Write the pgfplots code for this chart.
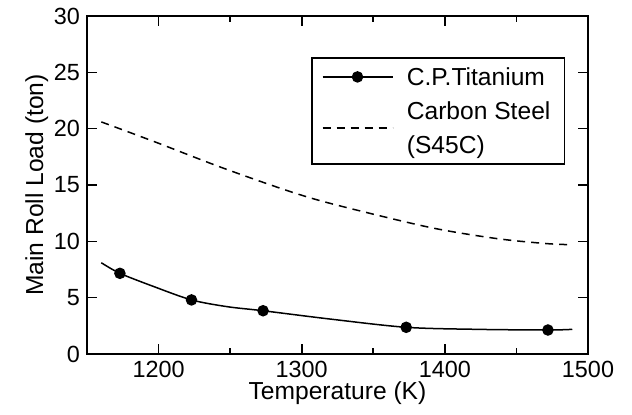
\documentclass[border=0pt]{standalone}
\usepackage{pgfplots}
\pgfplotsset{compat=1.18}
\usepackage{fontspec}
\setmainfont{Liberation Sans}
\pgfplotsset{
  tilegend/.style={legend image code/.code={\draw[##1] plot coordinates {(0pt,0pt) (17.5pt,0pt) (35pt,0pt)};}},
  stlegend/.style={legend image code/.code={\draw[##1,overlay] (0pt,-8.5pt) -- (35pt,-8.5pt);}},
}
\begin{document}
\begin{tikzpicture}
\begin{axis}[
  width=250.5pt, height=169pt, scale only axis,
  xmin=1150, xmax=1500, ymin=0, ymax=30,
  xtick={1200,1300,1400,1500}, minor xtick={1250,1350,1450},
  ytick={0,5,10,15,20,25,30},
  tick align=inside,
  major tick length=5pt, minor tick length=3pt,
  axis line style={line width=1pt},
  tick style={line width=0.8pt, black},
  /pgf/number format/assume math mode=true,
  /pgf/number format/1000 sep={},
  tick label style={font=\fontsize{11.7}{13}\selectfont},
  xlabel={Temperature (K)}, ylabel={Main Roll Load (ton)},
  label style={font=\fontsize{12.3}{14}\selectfont},
  xlabel style={at={(axis description cs:0.5,-0.136)}, anchor=base},
  ylabel style={at={(axis description cs:-0.0878,0.5)}, anchor=base},
  legend style={at={(rel axis cs:0.447,0.879)}, anchor=north west, draw=black, line width=0.8pt,
    font=\fontsize{12.3}{14}\selectfont, cells={anchor=west}, inner xsep=5pt, inner ysep=3pt,
    nodes={inner ysep=1pt, text height=10pt, text depth=1.2pt},
    row sep=3.8pt, column sep=4.8pt},
]
\addplot[smooth, line width=0.75pt, black, mark=*, mark size=2.5pt, mark indices={2,4,6,8,10}, forget plot] coordinates {
 (1160,8.1) (1173,7.16) (1197,5.97) (1223,4.8) (1248,4.2) (1273,3.84) (1320,3.1)
 (1373,2.37) (1422,2.19) (1472,2.13) (1489,2.19)};
\addplot[smooth, line width=0.75pt, black, dash pattern=on 4pt off 3pt, forget plot] coordinates {
 (1160,20.6) (1197,18.85) (1243,16.6) (1290,14.5) (1322,13.3) (1389,11.25) (1436,10.25) (1471,9.8) (1489,9.7)};
\addlegendimage{line width=0.75pt, black, mark=*, mark size=2.5pt, mark indices={2}, tilegend}
\addlegendentry{C.P.Titanium}
\addlegendimage{line width=0.75pt, black, dash pattern=on 4pt off 3pt, stlegend}
\addlegendentry{Carbon Steel}
\addlegendimage{empty legend}
\addlegendentry{(S45C)}
\end{axis}
\pgfresetboundingbox
\path (-43.5pt,-30pt) rectangle (272.5pt,177pt);
\end{tikzpicture}
\end{document}
